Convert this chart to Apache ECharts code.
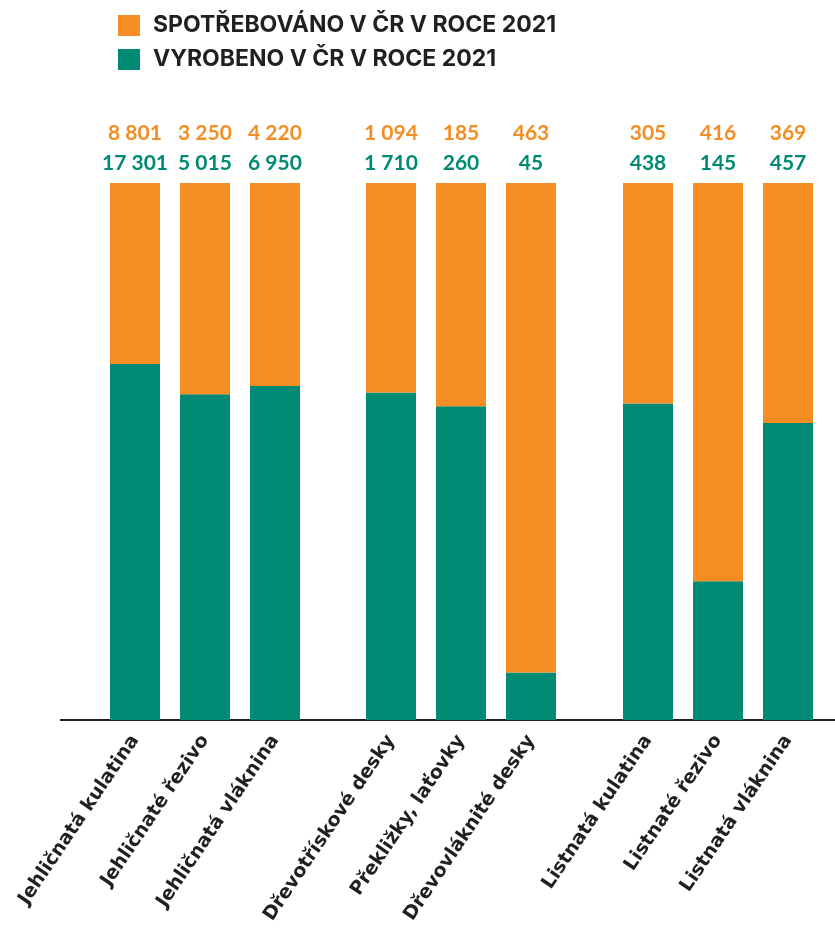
<!DOCTYPE html>
<html>
<head>
<meta charset="utf-8">
<script src="https://cdn.jsdelivr.net/npm/echarts@6/dist/echarts.min.js"></script>
<style>
  html, body { margin: 0; padding: 0; background: #fff; }
  #chart { width: 835px; height: 932px; }
</style>
</head>
<body>
<div id="chart"></div>
<script>
// skupiny kategorií (tři bloky sloupců)
const groups = [
    ['Jehličnatá kulatina', 'Jehličnaté řezivo', 'Jehličnatá vláknina'],
    ['Dřevotřískové desky', 'Překližky, laťovky', 'Dřevovláknité desky'],
    ['Listnatá kulatina', 'Listnaté řezivo', 'Listnatá vláknina']
]
// spotřebováno v ČR v roce 2021
const spotrebovano = [
    [8801, 3250, 4220],
    [1094, 185, 463],
    [305, 416, 369]
]
// vyrobeno v ČR v roce 2021
const vyrobeno = [
    [17301, 5015, 6950],
    [1710, 260, 45],
    [438, 145, 457]
]

const ORANGE = '#f58d22'
const GREEN = '#008a73'
const DARK = '#231f20'

function fmt (n) {
    return String(n).replace(/\B(?=(\d{3})+(?!\d))/g, ' ')
}

const chart = echarts.init(document.getElementById('chart'))

const gridLefts = [100, 356, 613]
const grid = []
const xAxis = []
const yAxis = []
const series = []

groups.forEach((cats, g) => {
    grid.push({ left: gridLefts[g], width: 210, top: 183, bottom: 212 })
    xAxis.push({
        type: 'category',
        gridIndex: g,
        data: cats,
        axisLine: { show: false },
        axisTick: { show: false },
        axisLabel: {
            interval: 0,
            rotate: 56,
            margin: 17,
            color: DARK,
            fontFamily: 'DejaVu Sans',
            fontWeight: 'bold',
            fontSize: 19
        }
    })
    yAxis.push({
        type: 'value',
        gridIndex: g,
        min: 0,
        max: 1,
        show: false
    })
    // podíl výroby a spotřeby v každém sloupci
    const shareV = cats.map((c, i) => vyrobeno[g][i] / (vyrobeno[g][i] + spotrebovano[g][i]))
    const shareS = cats.map((c, i) => spotrebovano[g][i] / (vyrobeno[g][i] + spotrebovano[g][i]))
    series.push({
        name: 'VYROBENO V ČR V ROCE 2021',
        type: 'bar',
        stack: 'g' + g,
        xAxisIndex: g,
        yAxisIndex: g,
        barWidth: 50,
        itemStyle: { color: GREEN },
        data: shareV
    })
    series.push({
        name: 'SPOTŘEBOVÁNO V ČR V ROCE 2021',
        type: 'bar',
        stack: 'g' + g,
        xAxisIndex: g,
        yAxisIndex: g,
        barWidth: 50,
        itemStyle: { color: ORANGE },
        label: {
            show: true,
            position: 'top',
            distance: 5,
            formatter: (p) => '{s|' + fmt(spotrebovano[g][p.dataIndex]) + '}\n{v|' + fmt(vyrobeno[g][p.dataIndex]) + '}',
            rich: {
                s: { color: ORANGE, fontFamily: 'Lato', fontWeight: 'bold', fontSize: 21, lineHeight: 30 },
                v: { color: GREEN, fontFamily: 'Lato', fontWeight: 'bold', fontSize: 21, lineHeight: 30 }
            }
        },
        data: shareS
    })
})

const option = {
    animation: false,
    legend: {
        orient: 'vertical',
        left: 113,
        top: 9,
        itemWidth: 22,
        itemHeight: 21,
        itemGap: 11,
        icon: 'rect',
        data: ['SPOTŘEBOVÁNO V ČR V ROCE 2021', 'VYROBENO V ČR V ROCE 2021'],
        textStyle: {
            color: DARK,
            fontFamily: 'Inter',
            fontWeight: 'bold',
            fontSize: 23,
            lineHeight: 21,
            padding: [0, 0, 0, 8]
        }
    },
    grid,
    xAxis,
    yAxis,
    series,
    // základní linka pod sloupci
    graphic: [{
        type: 'line',
        shape: { x1: 60, y1: 720, x2: 835, y2: 720 },
        style: { stroke: DARK, lineWidth: 2 }
    }]
}
chart.setOption(option)
</script>
</body>
</html>
